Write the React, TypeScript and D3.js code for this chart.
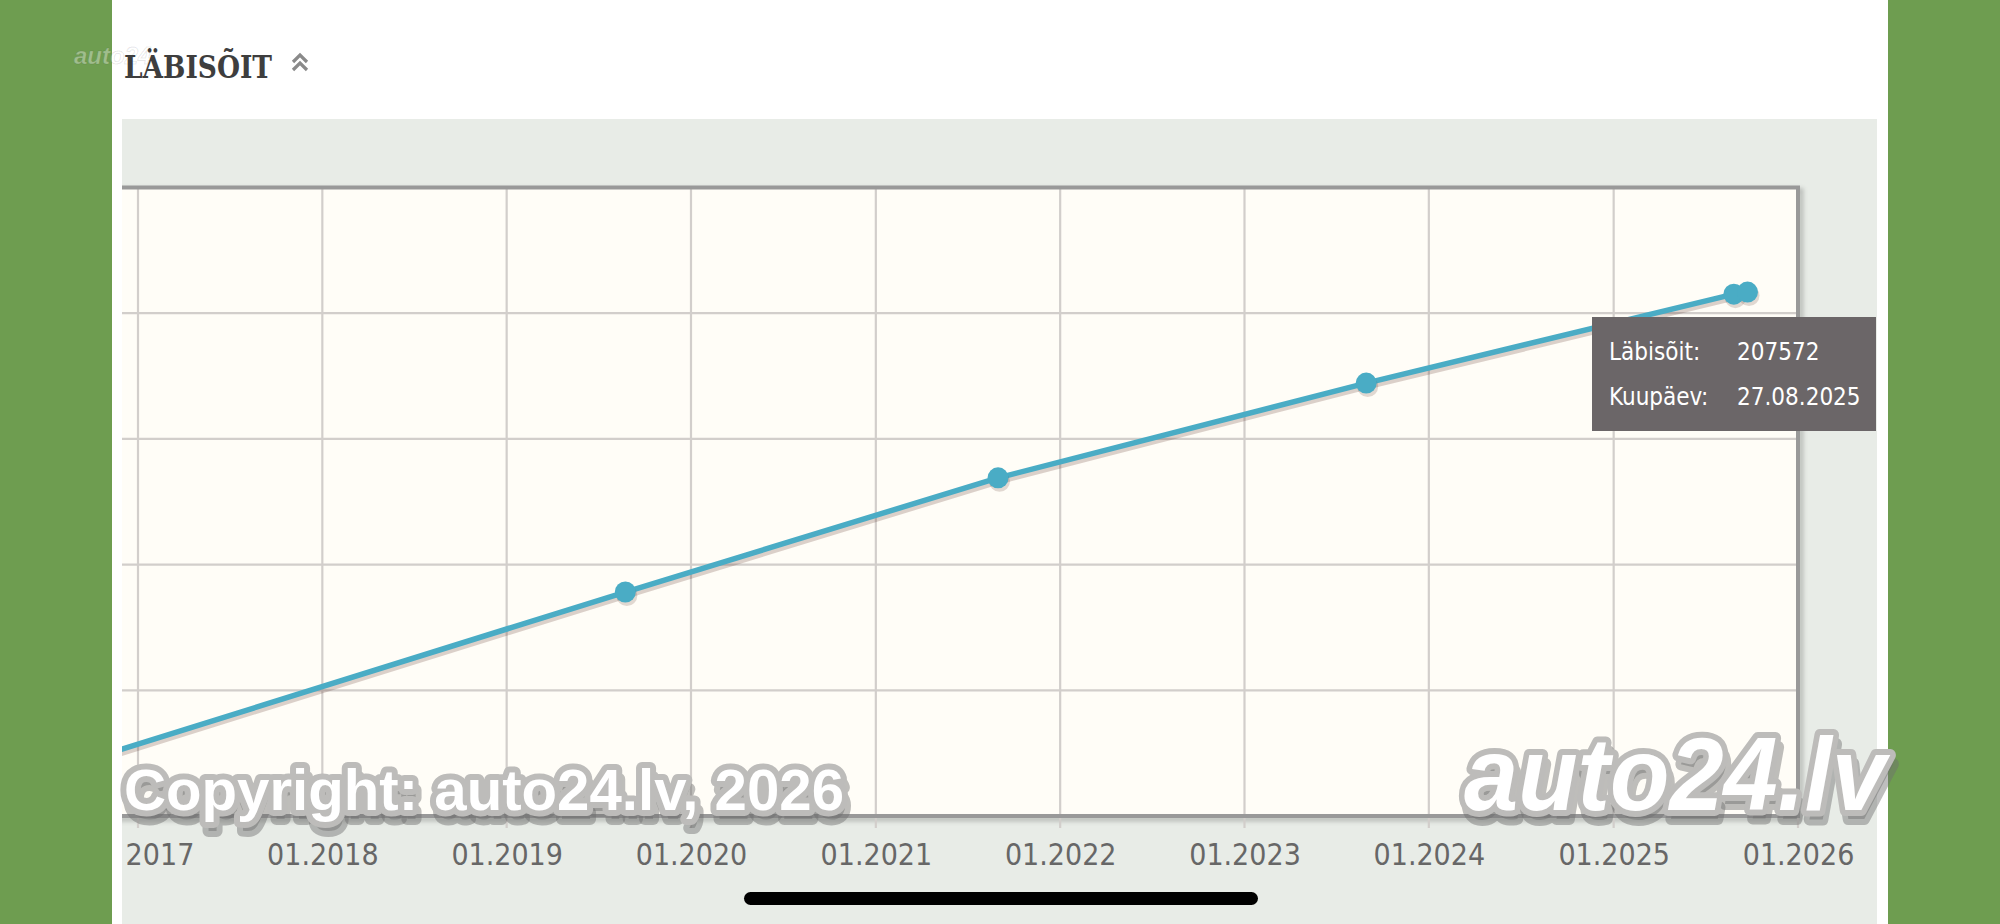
import React, { useEffect, useRef } from 'react';
import * as d3 from 'd3';

// odometer readings (date, km)
const readingDates = ['2016-03-15', '2019-08-24', '2021-08-31', '2023-08-30', '2025-08-27', '2025-09-23'];
const readingKm = [10300, 89100, 134500, 172200, 207572, 208400];

const tickYears = [2017, 2018, 2019, 2020, 2021, 2022, 2023, 2024, 2025, 2026];
const yTicks = [0, 50000, 100000, 150000, 200000, 250000];

const tooltipLabels = ['Läbisõit:', 'Kuupäev:'];
const tooltipValues = ['207572', '27.08.2025'];

const W = 2000;
const H = 924;

export default function App() {
  const svgRef = useRef<SVGSVGElement>(null);

  useEffect(() => {
    if (!svgRef.current) return;
    const svg = d3.select(svgRef.current);
    svg.selectAll('*').remove();

    const parse = d3.timeParse('%Y-%m-%d');
    const data = readingDates.map((d, i) => ({ date: parse(d) as Date, km: readingKm[i] }));

    const plotLeft = -60;
    const plotRight = 1798;
    const plotTop = 187.5;
    const plotBottom = 816;

    const x = d3.scaleTime()
      .domain([new Date(2017, 0, 1), new Date(2026, 0, 1)])
      .range([138, plotRight]);
    const y = d3.scaleLinear().domain([0, 250000]).range([plotBottom, plotTop]);

    const defs = svg.append('defs');
    defs.append('clipPath').attr('id', 'chartClip')
      .append('rect').attr('x', 122).attr('y', 0).attr('width', 1755).attr('height', H);
    defs.append('clipPath').attr('id', 'labelClip')
      .append('rect').attr('x', 127).attr('y', 0).attr('width', 1750).attr('height', H);
    defs.append('clipPath').attr('id', 'plotClip')
      .append('rect').attr('x', 122).attr('y', plotTop).attr('width', plotRight - 122).attr('height', plotBottom - plotTop);
    const blur = defs.append('filter').attr('id', 'soft').attr('x', '-10%').attr('y', '-10%').attr('width', '120%').attr('height', '120%');
    blur.append('feGaussianBlur').attr('stdDeviation', 2);

    // page background
    svg.append('rect').attr('width', W).attr('height', H).attr('fill', '#6e9d50');
    svg.append('rect').attr('x', 112).attr('y', 0).attr('width', 1776).attr('height', H).attr('fill', '#ffffff');

    // faint watermark near title
    svg.append('text').attr('x', 74).attr('y', 64).text('auto24')
      .attr('font-family', 'Liberation Sans').attr('font-weight', 'bold').attr('font-style', 'italic')
      .attr('font-size', 24).attr('fill', 'rgba(255,255,255,0.35)').attr('stroke', 'rgba(0,0,0,0.10)').attr('stroke-width', 1);

    // title
    svg.append('text').attr('x', 124).attr('y', 78).text('LÄBISÕIT')
      .attr('font-family', 'DejaVu Serif Condensed, DejaVu Serif').attr('font-weight', 'bold')
      .attr('font-size', 31).attr('fill', '#3e3e3e')
      .attr('textLength', 148).attr('lengthAdjust', 'spacingAndGlyphs');
    const chev = svg.append('g').attr('stroke', '#8a8a8a').attr('stroke-width', 3.2).attr('fill', 'none');
    chev.append('polyline').attr('points', '293,62 300,55 307,62');
    chev.append('polyline').attr('points', '293,70 300,63 307,70');

    // chart background
    svg.append('rect').attr('x', 122).attr('y', 119).attr('width', 1755).attr('height', H - 119).attr('fill', '#e8ece7');

    const chart = svg.append('g').attr('clip-path', 'url(#chartClip)');

    // frame shadow + plot background
    chart.append('rect').attr('x', plotLeft + 3).attr('y', plotTop + 3)
      .attr('width', plotRight - plotLeft).attr('height', plotBottom - plotTop)
      .attr('fill', 'none').attr('stroke', 'rgba(0,0,0,0.2)').attr('stroke-width', 5).attr('filter', 'url(#soft)');
    chart.append('rect').attr('x', plotLeft).attr('y', plotTop)
      .attr('width', plotRight - plotLeft).attr('height', plotBottom - plotTop).attr('fill', '#fffdf7');

    // grid
    chart.append('g').selectAll('line.v').data(tickYears).enter().append('line')
      .attr('x1', d => x(new Date(d, 0, 1))).attr('x2', d => x(new Date(d, 0, 1)))
      .attr('y1', plotTop).attr('y2', plotBottom + 12)
      .attr('stroke', '#d2cecb').attr('stroke-width', 2.2);
    chart.append('g').selectAll('line.h').data(yTicks).enter().append('line')
      .attr('x1', plotLeft).attr('x2', plotRight)
      .attr('y1', d => y(d)).attr('y2', d => y(d))
      .attr('stroke', '#d2cecb').attr('stroke-width', 2.2);

    // frame
    chart.append('rect').attr('x', plotLeft).attr('y', plotTop)
      .attr('width', plotRight - plotLeft).attr('height', plotBottom - plotTop)
      .attr('fill', 'none').attr('stroke', '#999999').attr('stroke-width', 4);

    // x axis labels
    const xAxis = d3.axisBottom(x)
      .tickValues(tickYears.map(d => new Date(d, 0, 1)))
      .tickFormat(d => d3.timeFormat('%m.%Y')(d as Date))
      .tickSize(0).tickPadding(28);
    const ax = svg.append('g').attr('clip-path', 'url(#labelClip)')
      .append('g').attr('transform', `translate(0,${plotBottom})`).call(xAxis);
    ax.select('.domain').remove();
    ax.selectAll('text').attr('font-family', 'DejaVu Sans Condensed, DejaVu Sans').attr('font-size', 30).attr('fill', '#676767');

    // series
    const line = d3.line<{ date: Date; km: number }>().x(d => x(d.date)).y(d => y(d.km));
    const series = chart.append('g').attr('clip-path', 'url(#plotClip)');
    series.append('path').datum(data).attr('d', line).attr('fill', 'none')
      .attr('stroke', 'rgba(90,50,40,0.22)').attr('stroke-width', 5.5)
      .attr('transform', 'translate(1.5,3.5)');
    series.append('path').datum(data).attr('d', line).attr('fill', 'none')
      .attr('stroke', '#4aacc5').attr('stroke-width', 5.5).attr('stroke-linejoin', 'round');
    series.selectAll('circle.sh').data(data).enter().append('circle')
      .attr('cx', d => x(d.date) + 1.5).attr('cy', d => y(d.km) + 3.5).attr('r', 10.5)
      .attr('fill', 'rgba(90,50,40,0.18)');
    series.selectAll('circle.pt').data(data).enter().append('circle')
      .attr('cx', d => x(d.date)).attr('cy', d => y(d.km)).attr('r', 10.5)
      .attr('fill', '#4aacc5');

    // tooltip
    const tip = svg.append('g').attr('transform', 'translate(1592,317)');
    tip.append('rect').attr('width', 284).attr('height', 114).attr('fill', '#6b6668');
    tip.selectAll('text.l').data(tooltipLabels).enter().append('text')
      .attr('x', 17).attr('y', (_, i) => 43 + i * 45).text(d => d)
      .attr('font-family', 'DejaVu Sans Condensed, DejaVu Sans').attr('font-size', 24).attr('fill', '#ffffff');
    tip.selectAll('text.v').data(tooltipValues).enter().append('text')
      .attr('x', 145).attr('y', (_, i) => 43 + i * 45).text(d => d)
      .attr('font-family', 'DejaVu Sans Condensed, DejaVu Sans').attr('font-size', 24).attr('fill', '#ffffff');

    // watermarks
    const mark = (txt: string, px: number, py: number, size: number, italic: boolean, len: number) => {
      const g = svg.append('g').attr('font-family', 'Liberation Sans, Arial').attr('font-weight', 'bold')
        .attr('font-size', size).attr('font-style', italic ? 'italic' : 'normal');
      g.append('text').attr('x', px + 3).attr('y', py + 9).text(txt)
        .attr('textLength', len).attr('lengthAdjust', 'spacingAndGlyphs')
        .attr('fill', 'rgba(110,110,110,0.45)').attr('stroke', 'rgba(110,110,110,0.45)')
        .attr('stroke-width', 12).attr('stroke-linejoin', 'round');
      g.append('text').attr('x', px).attr('y', py).text(txt)
        .attr('textLength', len).attr('lengthAdjust', 'spacingAndGlyphs')
        .attr('fill', '#ffffff').attr('stroke', '#bdbcba').attr('stroke-width', 12)
        .attr('stroke-linejoin', 'round').attr('paint-order', 'stroke');
    };
    mark('Copyright: auto24.lv, 2026', 124, 810, 58, false, 720);
    mark('auto24.lv', 1464, 810, 104, true, 422);

    // phone home indicator
    svg.append('rect').attr('x', 744).attr('y', 892).attr('width', 514).attr('height', 13).attr('rx', 6.5).attr('fill', '#000');
  }, []);

  return <svg ref={svgRef} width={W} height={H} viewBox={`0 0 ${W} ${H}`}
    style={{ position: 'fixed', left: 0, top: 0, display: 'block' }} />;
}
